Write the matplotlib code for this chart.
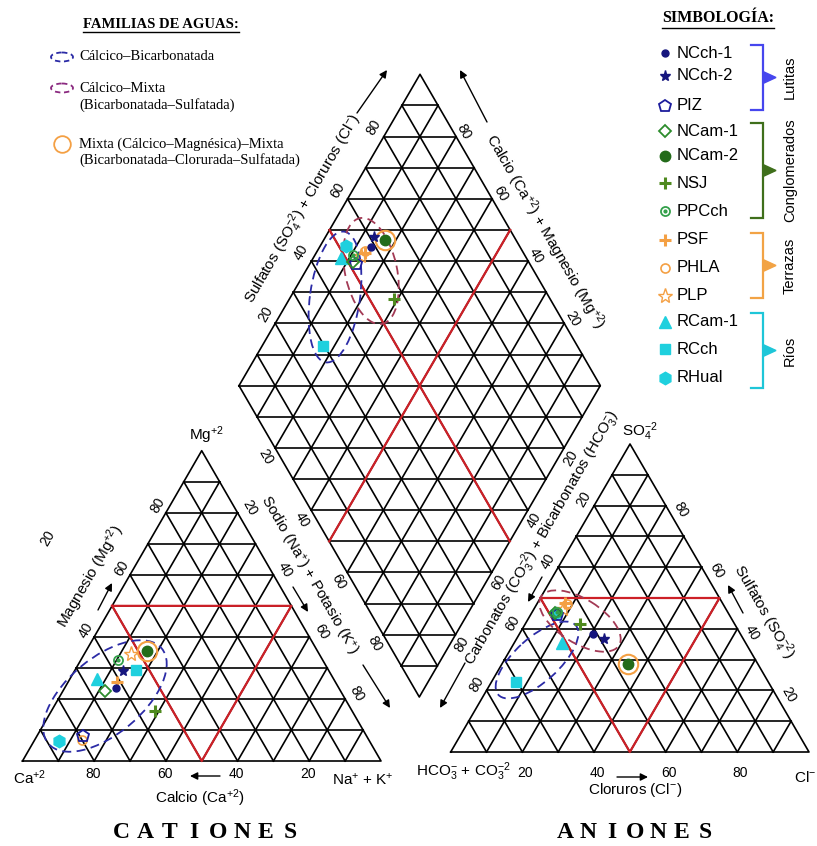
import numpy as np
import matplotlib
matplotlib.use("Agg")
import matplotlib.pyplot as plt
from matplotlib.patches import Ellipse, Polygon

plt.rcParams['font.family'] = ['Liberation Sans', 'DejaVu Sans']
plt.rcParams['mathtext.fontset'] = 'custom'
plt.rcParams['mathtext.rm'] = 'Liberation Sans'
plt.rcParams['mathtext.it'] = 'Liberation Sans:italic'
plt.rcParams['mathtext.bf'] = 'Liberation Sans:bold'
plt.rcParams['mathtext.default'] = 'regular'

# ------------------------------------------------------------------ data
# ionic composition in meq-% for each sampling point
samples = ['NCch-1', 'NCch-2', 'PIZ', 'NCam-1', 'NCam-2', 'NSJ', 'PPCch',
           'PSF', 'PHLA', 'PLP', 'RCam-1', 'RCch', 'RHual']
mg_pct = [23.4, 29.1, 8.1, 22.6, 35.5, 16.2, 32.5, 25.6, 6.8, 34.5, 26.3, 29.3, 6.5]
nak_pct = [14.3, 13.4, 12.9, 11.7, 16.9, 28.9, 10.5, 13.5, 13.1, 13.0, 7.7, 16.9, 7.0]
so4_pct = [38.3, 36.6, 44.5, 45.0, 28.6, 41.5, 45.5, 48.3, 48.0, 46.5, 35.5, 22.8, 45.0]
cl_pct = [20.6, 24.6, 7.5, 6.5, 35.2, 15.2, 7.0, 7.8, 8.5, 8.0, 13.2, 6.7, 7.0]

group_names = ['Lutitas', 'Conglomerados', 'Terrazas', 'Ríos']
group_sizes = [3, 4, 3, 3]
mixed_family = ['NCam-2']          # Mixta (Cálcico-Magnésica)-Mixta

tick_values = [20, 40, 60, 80]

family_labels = ['Cálcico–Bicarbonatada',
                 'Cálcico–Mixta\n(Bicarbonatada–Sulfatada)',
                 'Mixta (Cálcico–Magnésica)–Mixta\n(Bicarbonatada–Clorurada–Sulfatada)']

# ------------------------------------------------------------------ styles
navy = '#16167e'
blue_p = '#1c1c9c'
green1 = '#2c8c2c'
green2 = '#236b1a'
olive = '#4f8a1f'
green3 = '#33a04a'
orange = '#f4a044'
cyan = '#1fd0de'
red = '#cd2027'
fam_blue = '#2b2ba6'
fam_maroon = '#a33a55'
group_colors = ['#4646ee', '#3f6f1b', '#f2a345', '#1ec6d8']

styles = {
    'NCch-1': dict(marker='o', ms=5, mfc=navy, mec=navy),
    'NCch-2': dict(marker='*', ms=8, mfc=navy, mec=navy),
    'PIZ': dict(marker='p', ms=9, mfc='none', mec=blue_p, mew=1.3),
    'NCam-1': dict(marker='D', ms=6, mfc='none', mec=green1, mew=1.3),
    'NCam-2': dict(marker='o', ms=7.5, mfc=green2, mec=green2),
    'NSJ': dict(marker='+', ms=9, mec=olive, mew=2.2),
    'PPCch': dict(marker='o', ms=6.5, mfc='none', mec=green3, mew=1.3),
    'PSF': dict(marker='+', ms=9, mec=orange, mew=2.2),
    'PHLA': dict(marker='o', ms=6.5, mfc='none', mec=orange, mew=1.2),
    'PLP': dict(marker='*', ms=11, mfc='none', mec=orange, mew=1.0),
    'RCam-1': dict(marker='^', ms=8.5, mfc=cyan, mec=cyan),
    'RCch': dict(marker='s', ms=7.5, mfc=cyan, mec=cyan),
    'RHual': dict(marker='h', ms=9, mfc=cyan, mec=cyan),
}

# ------------------------------------------------------------------ geometry (pixel space)
CAT = np.array([[22.5, 761.0], [381.0, 761.0], [201.7, 450.7]])    # Ca, Na+K, Mg
AN = np.array([[450.7, 752.0], [809.0, 752.0], [630.0, 444.0]])    # HCO3, Cl, SO4
D_LEFT = np.array([239.0, 385.7])
D_BOT = np.array([419.3, 697.0])
D_TOP = np.array([420.0, 74.3])


def tern(corners, fr):
    fr = np.asarray(fr, dtype=float)
    return fr @ corners


def dia(n, s):
    return D_LEFT + n * (D_BOT - D_LEFT) + s * (D_TOP - D_LEFT)


fig = plt.figure(figsize=(8.17, 8.46), dpi=100)
ax = fig.add_axes([0, 0, 1, 1])
ax.set_xlim(0, 817)
ax.set_ylim(846, 0)
ax.axis('off')

LW = 1.2
RLW = 1.6


def draw_triangle(corners):
    poly = np.vstack([corners, corners[:1]])
    ax.plot(poly[:, 0], poly[:, 1], color='black', lw=LW, zorder=1)
    for f in np.arange(1, 10) / 10:
        for k in range(3):
            i, j = [m for m in range(3) if m != k]
            a = np.zeros(3); a[k] = f; a[i] = 1 - f
            b = np.zeros(3); b[k] = f; b[j] = 1 - f
            p, q = tern(corners, a), tern(corners, b)
            ax.plot([p[0], q[0]], [p[1], q[1]], color='black', lw=LW, zorder=1)
    # red sub-triangle joining the 50 % points
    r = np.array([tern(corners, [0.5, 0, 0.5]), tern(corners, [0, 0.5, 0.5]),
                  tern(corners, [0.5, 0.5, 0]), tern(corners, [0.5, 0, 0.5])])
    ax.plot(r[:, 0], r[:, 1], color=red, lw=RLW, zorder=2)


def draw_diamond():
    right = dia(1, 1)
    outline = np.array([D_LEFT, D_TOP, right, D_BOT, D_LEFT])
    ax.plot(outline[:, 0], outline[:, 1], color='black', lw=LW, zorder=1)
    for f in np.arange(1, 10) / 10:
        p, q = dia(f, 0), dia(f, 1)
        ax.plot([p[0], q[0]], [p[1], q[1]], color='black', lw=LW, zorder=1)
        p, q = dia(0, f), dia(1, f)
        ax.plot([p[0], q[0]], [p[1], q[1]], color='black', lw=LW, zorder=1)
    for k in range(1, 20):
        t = k / 20
        if t <= 0.5:
            lft = D_TOP + (D_LEFT - D_TOP) * (2 * t)
            rgt = D_TOP + (right - D_TOP) * (2 * t)
        else:
            lft = D_LEFT + (D_BOT - D_LEFT) * (2 * t - 1)
            rgt = right + (D_BOT - right) * (2 * t - 1)
        ax.plot([lft[0], rgt[0]], [lft[1], lft[1]], color='black', lw=LW, zorder=1)
    for a, b in [((0, 0.5), (1, 0.5)), ((0.5, 0), (0.5, 1))]:
        p, q = dia(*a), dia(*b)
        ax.plot([p[0], q[0]], [p[1], q[1]], color=red, lw=RLW, zorder=2)


draw_triangle(CAT)
draw_triangle(AN)
draw_diamond()

# ------------------------------------------------------------------ tick labels
TK = 10


def put_ticks(points, offset, rot, vals):
    for v, p in zip(vals, points):
        ax.text(p[0] + offset[0], p[1] + offset[1], str(v), fontsize=TK,
                rotation=rot, ha='center', va='center', rotation_mode='anchor')


fr = [v / 100 for v in tick_values]
put_ticks([tern(CAT, [v, 1 - v, 0]) for v in fr], (-1, 13), 0, tick_values)
put_ticks([tern(CAT, [1 - v, 0, v]) for v in fr[1:]], (-8, -7), 60, tick_values[1:])
ax.text(48, 538, '20', fontsize=TK, rotation=60, ha='center', va='center',
        rotation_mode='anchor')
put_ticks([tern(CAT, [0, v, 1 - v]) for v in fr], (12, -5), -60, tick_values)

put_ticks([tern(AN, [1 - v, v, 0]) for v in fr], (3, 21), 0, tick_values)
put_ticks([tern(AN, [v, 0, 1 - v]) for v in fr], (-10, -6), 60, tick_values)
put_ticks([tern(AN, [0, 1 - v, v]) for v in fr], (15, 4), -60, tick_values)

put_ticks([dia(0, v) for v in fr], (-10, -9), 60, tick_values)
put_ticks([dia(1 - v, 1) for v in fr], (8, -5), -60, tick_values)
put_ticks([dia(v, 0) for v in fr], (-9, 9), -60, tick_values)
put_ticks([dia(1, 1 - v) for v in fr], (6.5, 10), 60, tick_values)


# ------------------------------------------------------------------ axis titles and arrows
def arrow(tail, head):
    ax.annotate('', xy=head, xytext=tail,
                arrowprops=dict(arrowstyle='-|>', color='black', lw=1.0,
                                mutation_scale=11, shrinkA=0, shrinkB=0))


AT = 11
ax.text(206, 435, 'Mg$^{+2}$', fontsize=AT, ha='center', va='center')
ax.text(30, 778, 'Ca$^{+2}$', fontsize=AT, ha='center', va='center')
ax.text(363, 780, 'Na$^{+}$ + K$^{+}$', fontsize=AT, ha='center', va='center')
ax.text(200, 798, 'Calcio (Ca$^{+2}$)', fontsize=AT, ha='center', va='center')
arrow((220, 776), (190, 776))
ax.text(91, 577, 'Magnesio (Mg$^{+2}$)', fontsize=AT, rotation=60,
        ha='center', va='center', rotation_mode='anchor')
arrow((98, 610), (112, 583))
ax.text(308, 575, 'Sodio (Na$^{+}$) + Potasio (K$^{+}$)', fontsize=AT, rotation=-60,
        ha='center', va='center', rotation_mode='anchor')
arrow((293, 587), (308, 612))

ax.text(640, 432, 'SO$_4^{-2}$', fontsize=AT, ha='center', va='center')
ax.text(463, 772, 'HCO$_3^{-}$ + CO$_3^{-2}$', fontsize=AT, ha='center', va='center')
ax.text(816, 778, 'Cl$^{-}$', fontsize=AT, ha='right', va='center')
ax.text(635, 790, 'Cloruros (Cl$^{-}$)', fontsize=AT, ha='center', va='center')
arrow((617, 777), (648, 777))
ax.text(542, 538, 'Carbonatos (CO$_3^{-2}$) + Bicarbonatos (HCO$_3^{-}$)', fontsize=AT,
        rotation=60, ha='center', va='center', rotation_mode='anchor')
arrow((542, 577), (528, 602))
ax.text(763, 612, 'Sulfatos (SO$_4^{-2}$)', fontsize=AT, rotation=-60,
        ha='center', va='center', rotation_mode='anchor')
arrow((743, 613), (728, 585))

ax.text(303, 209, 'Sulfatos (SO$_4^{-2}$) + Cloruros (Cl$^{-}$)', fontsize=AT,
        rotation=60, ha='center', va='center', rotation_mode='anchor')
arrow((357, 113), (387, 70))
ax.text(545, 232, 'Calcio (Ca$^{+2}$) + Magnesio (Mg$^{+2}$)', fontsize=AT,
        rotation=-60, ha='center', va='center', rotation_mode='anchor')
arrow((487, 122), (460, 70))
arrow((363, 665), (390, 708))
arrow((465, 663), (440, 708))

# ------------------------------------------------------------------ hydrochemical families
fam_dash = (0, (5, 3))
family_shapes = [  # cx, cy, width, height, angle, colour
    (105, 696, 148, 76, -40, fam_blue),
    (537, 660, 104, 44, -42, fam_blue),
    (580, 621, 92, 44, 32, fam_maroon),
    (335, 297, 132, 50, -82, fam_blue),
    (371, 271, 108, 52, 78, fam_maroon),
]
for cx, cy, w, h, ang, col in family_shapes:
    ax.add_patch(Ellipse((cx, cy), w, h, angle=ang, fill=False, ec=col, lw=1.3,
                         ls=fam_dash, zorder=3))

# ------------------------------------------------------------------ samples
mg = np.array(mg_pct) / 100
nak = np.array(nak_pct) / 100
ca = 1 - mg - nak
so4 = np.array(so4_pct) / 100
cl = np.array(cl_pct) / 100
hco3 = 1 - so4 - cl

cat_pts = np.array([tern(CAT, [ca[i], nak[i], mg[i]]) for i in range(len(samples))])
an_pts = np.array([tern(AN, [hco3[i], cl[i], so4[i]]) for i in range(len(samples))])
dia_pts = np.array([dia(nak[i], so4[i] + cl[i]) for i in range(len(samples))])


def draw_marker(x, y, name, z):
    st = styles[name]
    ax.plot([x], [y], ls='none', zorder=z, **st)
    if name == 'PPCch':
        ax.plot([x], [y], ls='none', marker='o', ms=2, mfc=green3, mec=green3, zorder=z)


for pts in (cat_pts, an_pts, dia_pts):
    for name in mixed_family:
        i = samples.index(name)
        ax.plot([pts[i, 0]], [pts[i, 1]], ls='none', marker='o', ms=14,
                mfc='none', mec=orange, mew=1.5, zorder=4)

starts = np.cumsum([0] + group_sizes)
draw_groups = [3, 2, 0, 1]
z = 5
for g in draw_groups:
    for i in range(starts[g], starts[g + 1]):
        for pts in (cat_pts, an_pts, dia_pts):
            draw_marker(pts[i, 0], pts[i, 1], samples[i], z)
        z += 0.01

# ------------------------------------------------------------------ legends
serif = ['Liberation Serif', 'DejaVu Serif']
fig.canvas.draw()
renderer = fig.canvas.get_renderer()


def underline(t):
    bb = t.get_window_extent(renderer).transformed(ax.transData.inverted())
    y = max(bb.y0, bb.y1) + 1.5
    ax.plot([bb.x0, bb.x1], [y, y], color='black', lw=1.0)


t1 = ax.text(161, 24, 'FAMILIAS DE AGUAS:', family=serif, fontweight='bold',
             fontsize=10.5, ha='center', va='center')
underline(t1)

LF = 10.5
ax.add_patch(Ellipse((62, 57), 22, 9, fill=False, ec=fam_blue, lw=1.3, ls=(0, (3, 2))))
ax.text(79, 57, family_labels[0], family=serif, fontsize=LF, ha='left', va='center')
ax.add_patch(Ellipse((62, 88), 22, 9, fill=False, ec='#8b2a80', lw=1.3, ls=(0, (3, 2))))
l1, l2 = family_labels[1].split('\n')
ax.text(79, 88, l1, family=serif, fontsize=LF, ha='left', va='center')
ax.text(79, 105, l2, family=serif, fontsize=LF, ha='left', va='center')
ax.plot([62], [144], ls='none', marker='o', ms=12, mfc='none', mec=orange, mew=1.3)
l1, l2 = family_labels[2].split('\n')
ax.text(79, 144, l1, family=serif, fontsize=LF, ha='left', va='center')
ax.text(79, 160, l2, family=serif, fontsize=LF, ha='left', va='center')

t2 = ax.text(718, 18, 'SIMBOLOGÍA:', family=serif, fontweight='bold',
             fontsize=11.5, ha='center', va='center')
underline(t2)

legend_y = [53, 76, 106, 131, 156, 183, 211, 240, 268, 296, 322, 349, 378]
for name, y in zip(samples, legend_y):
    draw_marker(665, y, name, 5)
    ax.text(677, y, name, fontsize=12, ha='left', va='center')

bracket_spans = [(45, 110), (123, 218), (233, 298), (313, 388)]
for g, (y0, y1) in enumerate(bracket_spans):
    col = group_colors[g]
    ax.plot([751, 763, 763, 751], [y0, y0, y1, y1], color=col, lw=1.6,
            solid_joinstyle='miter')
    ym = (y0 + y1) / 2
    ax.add_patch(Polygon([(763, ym - 6), (776, ym), (763, ym + 6)], closed=True,
                         fc=col, ec=col))
    ax.text(790, ym, group_names[g], fontsize=10.5, rotation=90, ha='center', va='center')

# ------------------------------------------------------------------ panel titles
for word, x0, x1 in [('CATIONES', 121, 290), ('ANIONES', 565, 705)]:
    for ch, x in zip(word, np.linspace(x0, x1, len(word))):
        ax.text(x, 833, ch, family=serif, fontweight='bold', fontsize=17,
                ha='center', va='center')

fig.savefig('out.png', dpi=100)
